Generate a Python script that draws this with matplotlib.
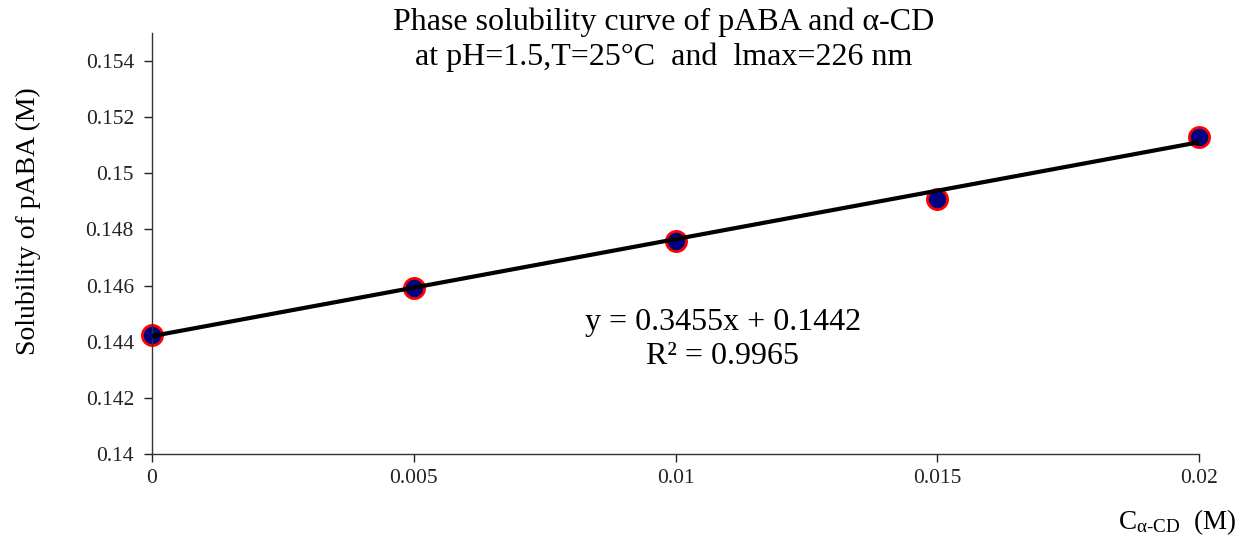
import numpy as np
import matplotlib
matplotlib.use("Agg")
import matplotlib.pyplot as plt

plt.rcParams['font.family'] = ['Liberation Serif', 'DejaVu Serif']
plt.rcParams['mathtext.fontset'] = 'custom'
plt.rcParams['mathtext.rm'] = 'Liberation Serif'
plt.rcParams['mathtext.it'] = 'Liberation Serif:italic'

# data
conc = [0, 0.005, 0.01, 0.015, 0.02]
solubility = [0.14424, 0.14591, 0.14759, 0.14908, 0.15129]
slope = 0.3455
intercept = 0.1442
x_ticks = [0, 0.005, 0.01, 0.015, 0.02]
x_tick_labels = ["0", "0.005", "0.01", "0.015", "0.02"]
y_ticks = [0.14, 0.142, 0.144, 0.146, 0.148, 0.15, 0.152, 0.154]
y_tick_labels = ["0.14", "0.142", "0.144", "0.146", "0.148", "0.15", "0.152", "0.154"]

fig = plt.figure(figsize=(12.42, 5.37), dpi=100)
ax = fig.add_axes([0.1224, 0.1546, 0.8430, 0.7839])

# trend line
fit_x = np.array([conc[0], conc[-1]])
ax.plot(fit_x, slope * fit_x + intercept, color="black", linewidth=3, zorder=3)

# data points
ax.plot(conc, solubility, linestyle="none", marker="o", markersize=14.5,
        markerfacecolor="#000080", markeredgecolor="red", markeredgewidth=2,
        zorder=2, clip_on=False)

ax.set_xlim(0, 0.02)
ax.set_ylim(0.14, 0.155)
ax.set_xticks(x_ticks)
ax.set_xticklabels(x_tick_labels)
ax.set_yticks(y_ticks)
ax.set_yticklabels(y_tick_labels)
ax.tick_params(direction="out", length=6, width=1, labelsize=15.5, colors="#222222")
ax.tick_params(axis="x", pad=5)
ax.tick_params(axis="y", pad=7)

for side in ["top", "right"]:
    ax.spines[side].set_visible(False)
for side in ["left", "bottom"]:
    ax.spines[side].set_color("#333333")
    ax.spines[side].set_linewidth(1)

fig.text(0.534, 0.926, "Phase solubility curve of pABA and \u03b1-CD\nat pH=1.5,T=25\u00b0C  and  lmax=226 nm",
         ha="center", va="center", fontsize=23, linespacing=1.25)

ax.text(0.0109, 0.14408, "y = 0.3455x + 0.1442\nR\u00b2 = 0.9965", ha="center", va="center",
        fontsize=23, linespacing=1.25)

fig.text(0.023, 0.588, "Solubility of pABA (M)", rotation=90, ha="center", va="center", fontsize=20)

fig.text(0.995, 0.028, r"C$_{\mathrm{\alpha\text{-}CD}}$  (M)", ha="right", va="center", fontsize=19.5)

fig.savefig("out.png", dpi=100)
